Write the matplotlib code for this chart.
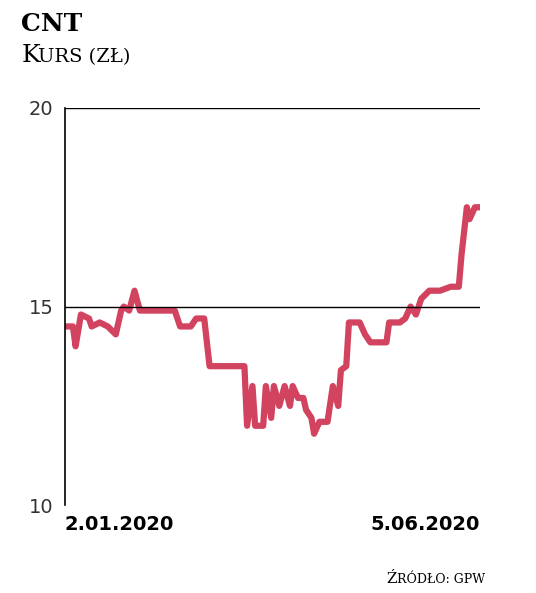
import matplotlib.pyplot as plt

# Days since 2.01.2020 and closing price (zł)
days = [0, 3, 4, 6, 9, 10, 13, 16, 19, 21, 22, 24, 26, 28, 32, 41, 43, 47, 49, 52,
        54, 67, 68, 70, 71, 74, 75, 77, 78, 80, 82, 84, 85, 87, 89, 90, 92, 93, 95,
        98, 100, 102, 103, 105, 106, 110, 112, 114, 120, 121, 125, 127, 129, 131,
        133, 136, 140, 144, 147, 148, 150, 151, 153, 155]
price = [14.5, 14.5, 14.0, 14.8, 14.7, 14.5, 14.6, 14.5, 14.3, 14.9, 15.0, 14.9,
         15.4, 14.9, 14.9, 14.9, 14.5, 14.5, 14.7, 14.7, 13.5, 13.5, 12.0, 13.0,
         12.0, 12.0, 13.0, 12.2, 13.0, 12.5, 13.0, 12.5, 13.0, 12.7, 12.7, 12.4,
         12.2, 11.8, 12.1, 12.1, 13.0, 12.5, 13.4, 13.5, 14.6, 14.6, 14.3, 14.1,
         14.1, 14.6, 14.6, 14.7, 15.0, 14.8, 15.2, 15.4, 15.4, 15.5, 15.5, 16.3,
         17.5, 17.2, 17.5, 17.5]
yticks = [10, 15, 20]
xlabels = ['2.01.2020', '5.06.2020']

fig = plt.figure(figsize=(5.36, 5.93), dpi=100)
ax = fig.add_axes([0.121, 0.148, 0.775, 0.670])
ax.plot(days, price, color='#d2435f', linewidth=4.5, solid_joinstyle='round')
ax.set_xlim(0, 155)
ax.set_ylim(10, 20)
for y in [15, 20]:
    ax.axhline(y, color='black', linewidth=1)
for s in ['top', 'right', 'bottom']:
    ax.spines[s].set_visible(False)
ax.spines['left'].set_linewidth(1.2)
ax.set_xticks([])
ax.set_yticks(yticks)
ax.set_yticklabels([str(t) for t in yticks], fontsize=14, color='#333333')
ax.tick_params(axis='y', length=0, pad=8)

fig.text(0.121, 0.115, xlabels[0], fontsize=14, fontweight='bold', ha='left', va='center')
fig.text(0.896, 0.115, xlabels[1], fontsize=14, fontweight='bold', ha='right', va='center')

fig.text(0.04, 0.98, 'CNT', fontsize=18, fontweight='bold', family='DejaVu Serif', va='top')
fig.text(0.04, 0.895, 'K', fontsize=18, family='DejaVu Serif', va='baseline')
fig.text(0.071, 0.895, 'URS (ZŁ)', fontsize=14, family='DejaVu Serif', va='baseline')
fig.text(0.72, 0.012, 'Ź', fontsize=11, family='DejaVu Serif', ha='left', va='bottom')
fig.text(0.74, 0.012, 'RÓDŁO: GPW', fontsize=9, family='DejaVu Serif', ha='left', va='bottom')

fig.savefig('out.png', dpi=100)
